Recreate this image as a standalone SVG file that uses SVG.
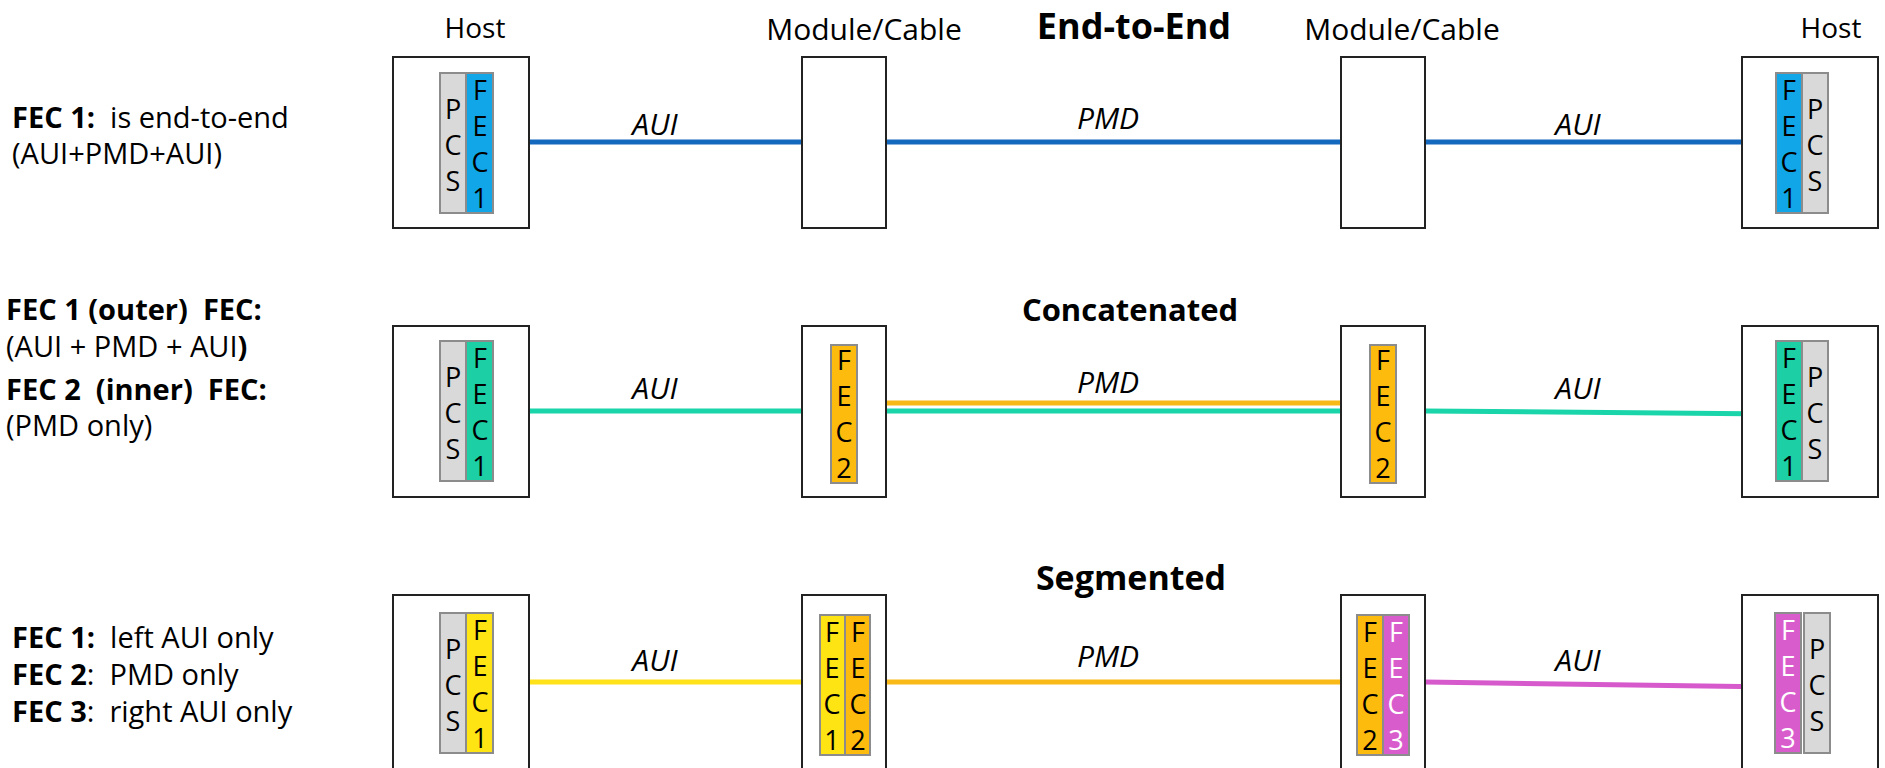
<svg xmlns="http://www.w3.org/2000/svg" width="1885" height="768" viewBox="0 0 1885 768">
<style>
text{font-family:"Open Sans","Liberation Sans",sans-serif;fill:#000}
.box{fill:#fff;stroke:#222;stroke-width:2}
.pcs{fill:#d9d9d9;stroke:#8c8c8c;stroke-width:2}
.f-blue{fill:#10a6e8;stroke:#8c8c8c;stroke-width:2}
.f-teal{fill:#1ccfa4;stroke:#8c8c8c;stroke-width:2}
.f-orange{fill:#fdbb0e;stroke:#8c8c8c;stroke-width:2}
.f-yellow{fill:#ffe414;stroke:#8c8c8c;stroke-width:2}
.f-mag{fill:#d95ccd;stroke:#8c8c8c;stroke-width:2}
.stk{font-size:27px;text-anchor:middle}
.wh{fill:#fff}
.host{font-size:28px;text-anchor:middle}
.mod{font-size:30px;text-anchor:middle}
.ttl{font-weight:bold;text-anchor:middle}
.lbl{font-size:30px;font-style:italic;text-anchor:middle}
.side{font-size:29px;white-space:pre}
.b{font-weight:bold}
.ln{fill:none;stroke-width:5}
.blue{stroke:#1468be}
.teal{stroke:#1bd5aa}
.orange{stroke:#f9b916}
.yellow{stroke:#ffe21a}
.mag{stroke:#d65acb}
</style>

<g id="headers">
<text class="host" x="475" y="38">Host</text>
<text class="mod" x="864" y="40">Module/Cable</text>
<text class="ttl" x="1134" y="39" font-size="36">End-to-End</text>
<text class="mod" x="1402" y="40">Module/Cable</text>
<text class="host" x="1831" y="38">Host</text>
<text class="ttl" x="1130" y="321" font-size="31">Concatenated</text>
<text class="ttl" x="1131" y="590" font-size="34">Segmented</text>
</g>

<g id="desc-row1">
<text class="side" xml:space="preserve" x="12" y="128"><tspan class="b">FEC 1:</tspan>  is end-to-end</text>
<text class="side" x="12" y="164">(AUI+PMD+AUI)</text>
</g>
<g id="desc-row2">
<text class="side b" xml:space="preserve" x="6" y="320">FEC 1 (outer)  FEC:</text>
<text class="side" x="6" y="357">(AUI + PMD + AUI<tspan class="b">)</tspan></text>
<text class="side b" xml:space="preserve" x="6" y="400">FEC 2  (inner)  FEC:</text>
<text class="side" x="6" y="436">(PMD only)</text>
</g>
<g id="desc-row3">
<text class="side" xml:space="preserve" x="12" y="648"><tspan class="b">FEC 1:</tspan>  left AUI only</text>
<text class="side" xml:space="preserve" x="12" y="685"><tspan class="b">FEC 2</tspan>:  PMD only</text>
<text class="side" xml:space="preserve" x="12" y="722"><tspan class="b">FEC 3</tspan>:  right AUI only</text>
</g>

<g id="connectors">
<line class="ln blue" x1="493" y1="142" x2="802" y2="142"/>
<line class="ln blue" x1="886" y1="142" x2="1341" y2="142"/>
<line class="ln blue" x1="1425" y1="142" x2="1776" y2="142"/>

<line class="ln teal" x1="493" y1="411" x2="802" y2="411"/>
<line class="ln teal" x1="886" y1="411" x2="1341" y2="411"/>
<line class="ln orange" x1="886" y1="403" x2="1341" y2="403"/>
<line class="ln teal" x1="1425" y1="411" x2="1776" y2="414"/>

<line class="ln yellow" x1="493" y1="682" x2="802" y2="682"/>
<line class="ln orange" x1="886" y1="682" x2="1341" y2="682"/>
<line class="ln mag" x1="1425" y1="682" x2="1776" y2="687"/>
</g>

<g id="labels">
<text class="lbl" x="655" y="135">AUI</text>
<text class="lbl" x="1108" y="129">PMD</text>
<text class="lbl" x="1578" y="135">AUI</text>
<text class="lbl" x="655" y="399">AUI</text>
<text class="lbl" x="1108" y="393">PMD</text>
<text class="lbl" x="1578" y="399">AUI</text>
<text class="lbl" x="655" y="671">AUI</text>
<text class="lbl" x="1108" y="667">PMD</text>
<text class="lbl" x="1578" y="671">AUI</text>
</g>

<!-- Row 1 -->
<g id="r1-host-left">
<rect class="box" x="393" y="57" width="136" height="171"/>
<rect class="pcs" x="440" y="73" width="26" height="140"/>
<rect class="f-blue" x="466" y="73" width="27" height="140"/>
<text class="stk"><tspan x="453" y="119">P</tspan><tspan x="453" y="155">C</tspan><tspan x="453" y="191">S</tspan></text>
<text class="stk"><tspan x="480" y="100">F</tspan><tspan x="480" y="136">E</tspan><tspan x="480" y="172">C</tspan><tspan x="480" y="208">1</tspan></text>
</g>
<g id="r1-module-left"><rect class="box" x="802" y="57" width="84" height="171"/></g>
<g id="r1-module-right"><rect class="box" x="1341" y="57" width="84" height="171"/></g>
<g id="r1-host-right">
<rect class="box" x="1742" y="57" width="136" height="171"/>
<rect class="f-blue" x="1776" y="73" width="26" height="140"/>
<rect class="pcs" x="1802" y="73" width="26" height="140"/>
<text class="stk"><tspan x="1789" y="100">F</tspan><tspan x="1789" y="136">E</tspan><tspan x="1789" y="172">C</tspan><tspan x="1789" y="208">1</tspan></text>
<text class="stk"><tspan x="1815" y="119">P</tspan><tspan x="1815" y="155">C</tspan><tspan x="1815" y="191">S</tspan></text>
</g>

<!-- Row 2 -->
<g id="r2-host-left">
<rect class="box" x="393" y="326" width="136" height="171"/>
<rect class="pcs" x="440" y="341" width="26" height="140"/>
<rect class="f-teal" x="466" y="341" width="27" height="140"/>
<text class="stk"><tspan x="453" y="387">P</tspan><tspan x="453" y="423">C</tspan><tspan x="453" y="459">S</tspan></text>
<text class="stk"><tspan x="480" y="368">F</tspan><tspan x="480" y="404">E</tspan><tspan x="480" y="440">C</tspan><tspan x="480" y="476">1</tspan></text>
</g>
<g id="r2-module-left">
<rect class="box" x="802" y="326" width="84" height="171"/>
<rect class="f-orange" x="831" y="345" width="26" height="138"/>
<text class="stk"><tspan x="844" y="370">F</tspan><tspan x="844" y="406">E</tspan><tspan x="844" y="442">C</tspan><tspan x="844" y="478">2</tspan></text>
</g>
<g id="r2-module-right">
<rect class="box" x="1341" y="326" width="84" height="171"/>
<rect class="f-orange" x="1370" y="345" width="26" height="138"/>
<text class="stk"><tspan x="1383" y="370">F</tspan><tspan x="1383" y="406">E</tspan><tspan x="1383" y="442">C</tspan><tspan x="1383" y="478">2</tspan></text>
</g>
<g id="r2-host-right">
<rect class="box" x="1742" y="326" width="136" height="171"/>
<rect class="f-teal" x="1776" y="341" width="26" height="140"/>
<rect class="pcs" x="1802" y="341" width="26" height="140"/>
<text class="stk"><tspan x="1789" y="368">F</tspan><tspan x="1789" y="404">E</tspan><tspan x="1789" y="440">C</tspan><tspan x="1789" y="476">1</tspan></text>
<text class="stk"><tspan x="1815" y="387">P</tspan><tspan x="1815" y="423">C</tspan><tspan x="1815" y="459">S</tspan></text>
</g>

<!-- Row 3 -->
<g id="r3-host-left">
<rect class="box" x="393" y="595" width="136" height="180"/>
<rect class="pcs" x="440" y="613" width="26" height="140"/>
<rect class="f-yellow" x="466" y="613" width="27" height="140"/>
<text class="stk"><tspan x="453" y="659">P</tspan><tspan x="453" y="695">C</tspan><tspan x="453" y="731">S</tspan></text>
<text class="stk"><tspan x="480" y="640">F</tspan><tspan x="480" y="676">E</tspan><tspan x="480" y="712">C</tspan><tspan x="480" y="748">1</tspan></text>
</g>
<g id="r3-module-left">
<rect class="box" x="802" y="595" width="84" height="180"/>
<rect class="f-yellow" x="820" y="615" width="25" height="140"/>
<rect class="f-orange" x="845" y="615" width="25" height="140"/>
<text class="stk"><tspan x="832" y="642">F</tspan><tspan x="832" y="678">E</tspan><tspan x="832" y="714">C</tspan><tspan x="832" y="750">1</tspan></text>
<text class="stk"><tspan x="858" y="642">F</tspan><tspan x="858" y="678">E</tspan><tspan x="858" y="714">C</tspan><tspan x="858" y="750">2</tspan></text>
</g>
<g id="r3-module-right">
<rect class="box" x="1341" y="595" width="84" height="180"/>
<rect class="f-orange" x="1357" y="615" width="26" height="140"/>
<rect class="f-mag" x="1383" y="615" width="26" height="140"/>
<text class="stk"><tspan x="1370" y="642">F</tspan><tspan x="1370" y="678">E</tspan><tspan x="1370" y="714">C</tspan><tspan x="1370" y="750">2</tspan></text>
<text class="stk wh"><tspan x="1396" y="642">F</tspan><tspan x="1396" y="678">E</tspan><tspan x="1396" y="714">C</tspan><tspan x="1396" y="750">3</tspan></text>
</g>
<g id="r3-host-right">
<rect class="box" x="1742" y="595" width="136" height="180"/>
<rect class="f-mag" x="1775" y="613" width="26" height="140"/>
<rect class="pcs" x="1804" y="613" width="26" height="140"/>
<text class="stk wh"><tspan x="1788" y="640">F</tspan><tspan x="1788" y="676">E</tspan><tspan x="1788" y="712">C</tspan><tspan x="1788" y="748">3</tspan></text>
<text class="stk"><tspan x="1817" y="659">P</tspan><tspan x="1817" y="695">C</tspan><tspan x="1817" y="731">S</tspan></text>
</g>
</svg>
